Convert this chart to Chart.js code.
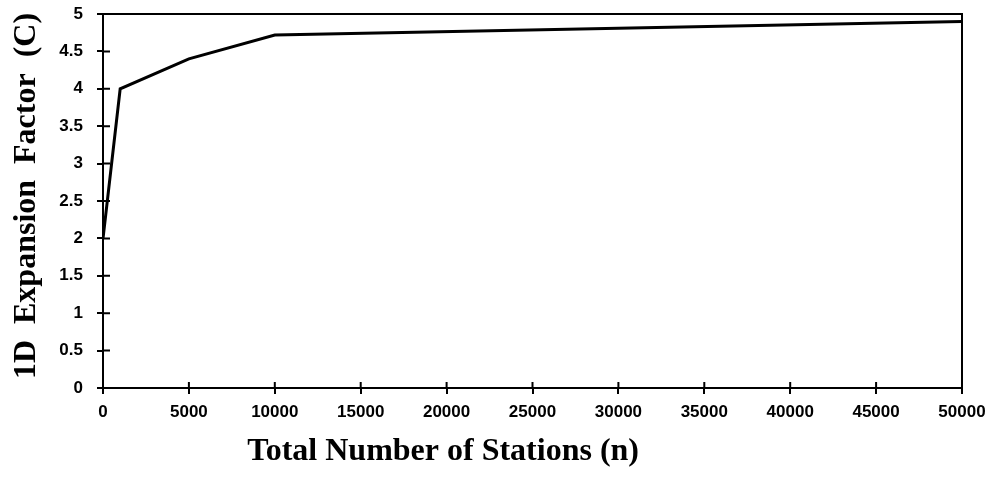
<!DOCTYPE html>
<html><head><meta charset="utf-8">
<script src="https://cdn.jsdelivr.net/npm/chart.js@4.4.1/dist/chart.umd.min.js"></script>
<style>html,body{margin:0;padding:0;background:#fff}#wrap{width:990px;height:487px;position:relative}</style>
</head><body><div id="wrap"><canvas id="c"></canvas></div>
<script>
const stations = [2, 1000, 5000, 10000, 50000];
const factor = [2.0, 4.0, 4.4, 4.72, 4.9];
const xTitle = 'Total Number of Stations (n)';
const yTitle = '1D  Expansion  Factor  (C)';
const xMin = 0, xMax = 50000, xStep = 5000;
const yMin = 0, yMax = 5, yStep = 0.5;

const titleFont = 'bold 32px "Liberation Serif", "Times New Roman", serif';

const frameAndTitles = {
  id: 'frameAndTitles',
  afterDraw(chart) {
    const ctx = chart.ctx, a = chart.chartArea;
    ctx.save();
    ctx.strokeStyle = '#000';
    ctx.lineWidth = 2;
    ctx.strokeRect(a.left, a.top, a.right - a.left, a.bottom - a.top);
    const xs = chart.scales.x, ys = chart.scales.y;
    ctx.beginPath();
    xs.ticks.forEach((t, i) => {
      const p = xs.getPixelForTick(i);
      ctx.moveTo(p, a.bottom); ctx.lineTo(p, a.bottom - 6);
    });
    ys.ticks.forEach((t, i) => {
      const p = ys.getPixelForTick(i);
      ctx.moveTo(a.left, p); ctx.lineTo(a.left + 7, p);
    });
    ctx.stroke();
    // axis titles
    ctx.fillStyle = '#000';
    ctx.font = titleFont;
    ctx.textAlign = 'center';
    ctx.textBaseline = 'middle';
    ctx.fillText(xTitle, a.left + (a.right - a.left) * 0.396, a.bottom + 64);
    ctx.translate(27, (a.top + a.bottom) / 2 - 5);
    ctx.rotate(-Math.PI / 2);
    ctx.fillText(yTitle, 0, 0);
    ctx.restore();
  }
};

new Chart(document.getElementById('c'), {
  type: 'line',
  data: {
    datasets: [{
      data: stations.map((s, i) => ({x: s, y: factor[i]})),
      borderColor: '#000',
      borderWidth: 3,
      pointRadius: 0,
      tension: 0,
      fill: false
    }]
  },
  options: {
    responsive: true,
    maintainAspectRatio: false,
    devicePixelRatio: 1,
    animation: false,
    layout: {padding: {top: 14, right: 28, bottom: 0, left: 0}},
    plugins: {legend: {display: false}, tooltip: {enabled: false}},
    scales: {
      x: {
        type: 'linear', min: xMin, max: xMax,
        afterFit(s) { s.height = 99; s.paddingLeft = 0; s.paddingRight = 0; },
        ticks: {stepSize: xStep, color: '#000', padding: 8, maxRotation: 0,
          font: {family: '"Liberation Sans", Arial, sans-serif', weight: 'bold', size: 17},
          callback: v => String(v)},
        grid: {drawOnChartArea: false, color: '#000', tickLength: 6, lineWidth: 2, tickWidth: 2},
        border: {color: '#000', width: 2},
        title: {display: false}
      },
      y: {
        min: yMin, max: yMax,
        afterFit(s) { s.width = 103; s.paddingTop = 0; s.paddingBottom = 0; },
        ticks: {stepSize: yStep, color: '#000', padding: 14,
          font: {family: '"Liberation Sans", Arial, sans-serif', weight: 'bold', size: 17},
          callback: v => String(v)},
        grid: {drawOnChartArea: false, color: '#000', tickLength: 6, lineWidth: 2, tickWidth: 2},
        border: {color: '#000', width: 2},
        title: {display: false}
      }
    }
  },
  plugins: [frameAndTitles]
});
</script></body></html>
